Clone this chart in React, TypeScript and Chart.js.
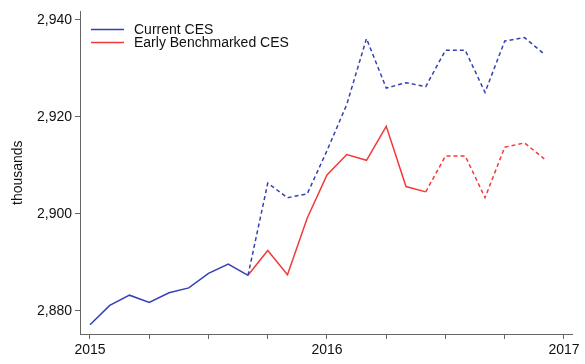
import { useEffect, useRef } from "react";
import { Chart, registerables } from "chart.js";

Chart.register(...registerables);

const months = [
  "2015-01", "2015-02", "2015-03", "2015-04", "2015-05", "2015-06",
  "2015-07", "2015-08", "2015-09", "2015-10", "2015-11", "2015-12",
  "2016-01", "2016-02", "2016-03", "2016-04", "2016-05", "2016-06",
  "2016-07", "2016-08", "2016-09", "2016-10", "2016-11", "2016-12",
];

const currentCES = [
  2877.1, 2881.1, 2883.2, 2881.7, 2883.7, 2884.7, 2887.7, 2889.6, 2887.3,
  2906.3, 2903.3, 2904.1, 2913.0, 2922.5, 2936.1, 2925.9, 2927.0, 2926.2,
  2933.7, 2933.7, 2925.0, 2935.6, 2936.3, 2932.9,
];

const earlyBenchmarkedCES = [
  null, null, null, null, null, null, null, null, 2887.3,
  2892.4, 2887.4, 2899.1, 2908.0, 2912.2, 2911.0, 2918.0, 2905.6, 2904.5,
  2911.9, 2911.9, 2903.3, 2913.7, 2914.6, 2911.3,
];

const seriesNames = ["Current CES", "Early Benchmarked CES"];
// last month drawn solid for each series; later months are dashed
const currentSolidThrough = "2015-09";
const earlySolidThrough = "2016-06";

const yearTickLabels = ["2015", "2016", "2017"];
const quarterTicks = [
  2015, 2015.25, 2015.5, 2015.75, 2016, 2016.25, 2016.5, 2016.75, 2017,
];
const yTicks = [2880, 2900, 2920, 2940];
const yTitle = "thousands";

const BLUE = "#3441b4";
const RED = "#f23a3a";
const AXIS = "#666666";
const FONT = "'Liberation Sans', Arial, sans-serif";

const toX = (m: string) => {
  const [y, mo] = m.split("-").map(Number);
  return y + (mo - 1) / 12;
};

const legendPlugin = {
  id: "insideLegend",
  afterDraw(chart: any) {
    const { ctx, chartArea } = chart;
    ctx.save();
    chart.data.datasets.forEach((ds: any, i: number) => {
      const y = chartArea.top + 18 + i * 13;
      ctx.strokeStyle = ds.borderColor;
      ctx.lineWidth = 1.5;
      ctx.setLineDash([]);
      ctx.beginPath();
      ctx.moveTo(chartArea.left + 11, y);
      ctx.lineTo(chartArea.left + 44, y);
      ctx.stroke();
      ctx.fillStyle = "#111111";
      ctx.font = `14px ${FONT}`;
      ctx.textBaseline = "middle";
      ctx.textAlign = "left";
      ctx.fillText(ds.label, chartArea.left + 54, y + 1);
    });
    ctx.restore();
  },
};

export default function App() {
  const ref = useRef<HTMLCanvasElement | null>(null);

  useEffect(() => {
    if (!ref.current) return;
    const curIdx = months.indexOf(currentSolidThrough);
    const earlyIdx = months.indexOf(earlySolidThrough);
    const chart = new Chart(ref.current, {
      type: "line",
      data: {
        datasets: [
          {
            label: seriesNames[0],
            data: months.map((m, i) => ({ x: toX(m), y: currentCES[i] })),
            borderColor: BLUE,
            borderWidth: 1.5,
            pointRadius: 0,
            tension: 0,
            segment: {
              borderDash: (c: any) => (c.p0DataIndex >= curIdx ? [4, 3] : undefined),
            },
          },
          {
            label: seriesNames[1],
            data: months.map((m, i) => ({ x: toX(m), y: earlyBenchmarkedCES[i] })),
            borderColor: RED,
            borderWidth: 1.5,
            pointRadius: 0,
            tension: 0,
            spanGaps: false,
            segment: {
              borderDash: (c: any) => (c.p0DataIndex >= earlyIdx ? [4, 3] : undefined),
            },
          },
        ],
      },
      options: {
        animation: false,
        responsive: false,
        maintainAspectRatio: false,
        layout: { padding: { top: 3, right: 13, left: 0, bottom: 0 } },
        plugins: { legend: { display: false }, tooltip: { enabled: false } },
        scales: {
          x: {
            type: "linear",
            min: 2015 - 10 / 237,
            max: 2017 + 8 / 237,
            afterBuildTicks: (s: any) => {
              s.ticks = quarterTicks.map((v) => ({ value: v }));
            },
            afterFit: (s: any) => {
              s.height = 30;
            },
            grid: {
              drawOnChartArea: false,
              drawTicks: true,
              tickLength: 5,
              color: AXIS,
              lineWidth: 1,
            },
            border: { display: true, color: AXIS, width: 1 },
            ticks: {
              autoSkip: false,
              maxRotation: 0,
              padding: 3,
              color: "#111111",
              font: { family: FONT, size: 14 },
              callback: (v: any) => {
                const lbl = String(v);
                return yearTickLabels.includes(lbl) ? lbl : "";
              },
            },
          },
          y: {
            type: "linear",
            min: 2875.2,
            max: 2941.7,
            afterBuildTicks: (s: any) => {
              s.ticks = yTicks.map((v) => ({ value: v }));
            },
            afterFit: (s: any) => {
              s.width = 80;
            },
            grid: {
              drawOnChartArea: false,
              drawTicks: true,
              tickLength: 5,
              color: AXIS,
              lineWidth: 1,
            },
            border: { display: true, color: AXIS, width: 1 },
            title: {
              display: true,
              text: yTitle,
              color: "#111111",
              font: { family: FONT, size: 14 },
              padding: { top: 10, bottom: 0 },
            },
            ticks: {
              padding: 3,
              color: "#111111",
              font: { family: FONT, size: 14 },
              callback: (v: any) => Number(v).toLocaleString("en-US"),
            },
          },
        },
      },
      plugins: [legendPlugin],
    });
    return () => chart.destroy();
  }, []);

  return (
    <div style={{ position: "fixed", left: 0, top: 0, width: 585, height: 364, background: "#fff" }}>
      <canvas ref={ref} width={585} height={364} style={{ display: "block", width: 585, height: 364 }} />
    </div>
  );
}
